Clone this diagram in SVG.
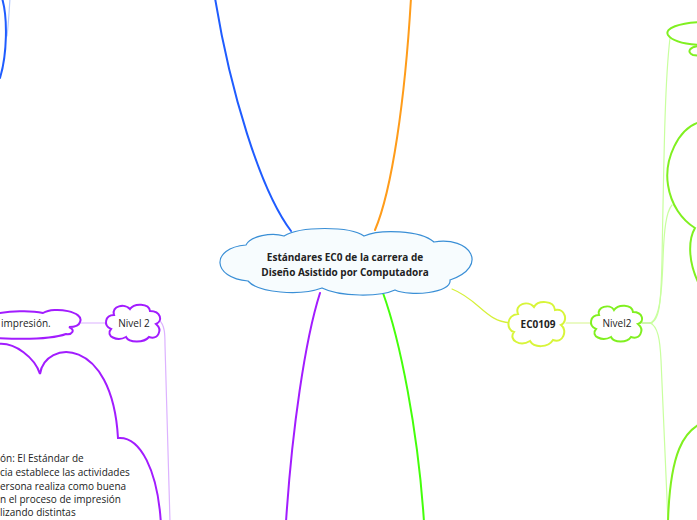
<svg xmlns="http://www.w3.org/2000/svg" width="697" height="520" viewBox="0 0 697 520">
<style>
  .c{fill:none;stroke-linecap:round}
  .main{stroke-width:2}
  .thin{stroke-width:1.2}
  .cloud{stroke-width:2;fill:#fff}
  .t{font-family:"Open Sans","Noto Sans","DejaVu Sans",sans-serif;font-size:10px;fill:#222}
  .b{font-weight:bold}
</style>
<rect width="697" height="520" fill="#fff"/>
<g id="connectors">
  <path class="c main" stroke="#1f5cff" d="M291,231 C260,190 230,90 215,-2"/>
  <path class="c main" stroke="#ff9c1a" d="M375,230 C392,190 405,100 411,-2"/>
  <path class="c main" stroke="#a21cff" d="M320,293 C305,340 292,430 286,522"/>
  <path class="c main" stroke="#44ff0a" d="M383,293 C400,340 418,430 424,522"/>
  <path class="c thin" stroke="#d6f03a" stroke-width="1.5" d="M452,289 C480,300 485,322 512,323"/>
  <path class="c thin" stroke="#d6f58a" d="M566,323 L592,323"/>
  <path class="c thin" stroke="#9df05a" d="M642,323 L652,323"/>
  <path class="c thin" stroke="#c8ff9e" d="M650,323 C660,322 661,300 662,260 C664,150 665,80 670,38"/>
  <path class="c thin" stroke="#c8ff9e" d="M650,323 C660,320 662,290 663,260 C664,230 666,212 672,205"/>
  <path class="c thin" stroke="#c8ff9e" d="M650,323 C658,326 660,340 661,360 L668,522"/>
  <path class="c thin" stroke="#dcb2ff" d="M80,323 L107,323"/>
  <path class="c thin" stroke="#dcb2ff" d="M159,320 C165,325 165,335 165,345 L170,522"/>
  <path class="c thin" stroke="#b8ccff" d="M10,-2 C9,15 8,28 7,36"/>
</g>
<g id="node-blue">
  <path class="c main" stroke="#1f5cff" d="M2,-2 C8,18 7,55 0,78"/>
</g>
<g id="node-center">
  <path fill="#f7fcfe" stroke="#3a8fd6" stroke-width="1.2" d="M284,236 C300,226 350,226 364,236 C380,229 420,230 434,242 C470,236 490,266 450,280 C452,293 410,297 395,290 C380,297 340,297 322,288 C300,296 258,293 248,281 C212,278 210,248 246,245 C250,236 272,232 284,236 Z"/>
  <text class="t b" x="345" y="261" text-anchor="middle" fill="#111">Estándares EC0 de la carrera de</text>
  <text class="t b" x="345" y="276" text-anchor="middle" fill="#111">Diseño Asistido por Computadora</text>
</g>
<g id="node-ec0109">
  <path class="cloud" stroke="#d8f53a" d="M518,314 C514,304 528,300 534,307 C538,300 554,300 555,310 C566,308 568,322 561,325 C568,330 563,344 553,340 C548,348 534,348 530,341 C520,347 508,340 514,332 C506,330 506,315 518,314 Z"/>
  <text class="t b" x="538" y="328" text-anchor="middle" fill="#1a4a36">EC0109</text>
</g>
<g id="node-nivel2-green">
  <path class="cloud" stroke="#80f020" d="M599,315 C596,307 610,303 614,310 C618,304 632,304 633,312 C643,312 645,322 638,324 C645,330 640,340 631,337 C627,343 614,343 611,337 C602,342 590,336 596,329 C588,326 590,315 599,315 Z"/>
  <text class="t" x="617" y="327" text-anchor="middle" fill="#333">Nivel2</text>
</g>
<g id="node-green-top">
  <path class="c main" stroke="#80f020" d="M700,22 C680,23 664,28 668,35 C672,41 685,44 699,45"/>
  <path class="c main" stroke="#80f020" d="M700,46 C690,46 686,52 693,55 L700,56"/>
</g>
<g id="node-green-mid">
  <path class="c main" stroke="#80f020" d="M700,122 C678,128 664,160 668,185 C671,205 682,220 695,228 C688,240 688,262 699,284"/>
</g>
<g id="node-green-bottom">
  <path class="c main" stroke="#80f020" d="M700,424 C685,432 670,450 668,522"/>
</g>
<g id="node-nivel2-purple">
  <path class="cloud" stroke="#a21cff" d="M114,315 C111,306 125,303 130,309 C134,303 149,303 150,311 C161,311 163,321 156,324 C163,330 158,340 149,337 C144,343 129,343 126,337 C117,342 105,336 111,329 C103,326 105,315 114,315 Z"/>
  <text class="t" x="134" y="327" text-anchor="middle" fill="#222">Nivel 2</text>
</g>
<g id="node-impresion">
  <path class="cloud" stroke="#a21cff" d="M-5,314 C10,311 30,310 43,313 C55,306 85,312 80,322 C79,326 74,327 69,327 C76,330 72,335 66,334 C50,340 15,339 -5,338"/>
  <text class="t" x="1" y="327" fill="#222">impresión.</text>
</g>
<g id="node-descripcion">
  <path class="c main" stroke="#a21cff" d="M-2,344 C15,342 35,358 40,374 C45,340 112,335 118,438 C140,436 158,470 161,525"/>
  <text class="t" x="0" y="462" fill="#222">ón: El Estándar de</text>
  <text class="t" x="0" y="476" fill="#222">cia establece las actividades</text>
  <text class="t" x="0" y="490" fill="#222">ersona realiza como buena</text>
  <text class="t" x="0" y="503" fill="#222">n el proceso de impresión</text>
  <text class="t" x="0" y="516" fill="#222">lizando distintas</text>
</g>
</svg>
